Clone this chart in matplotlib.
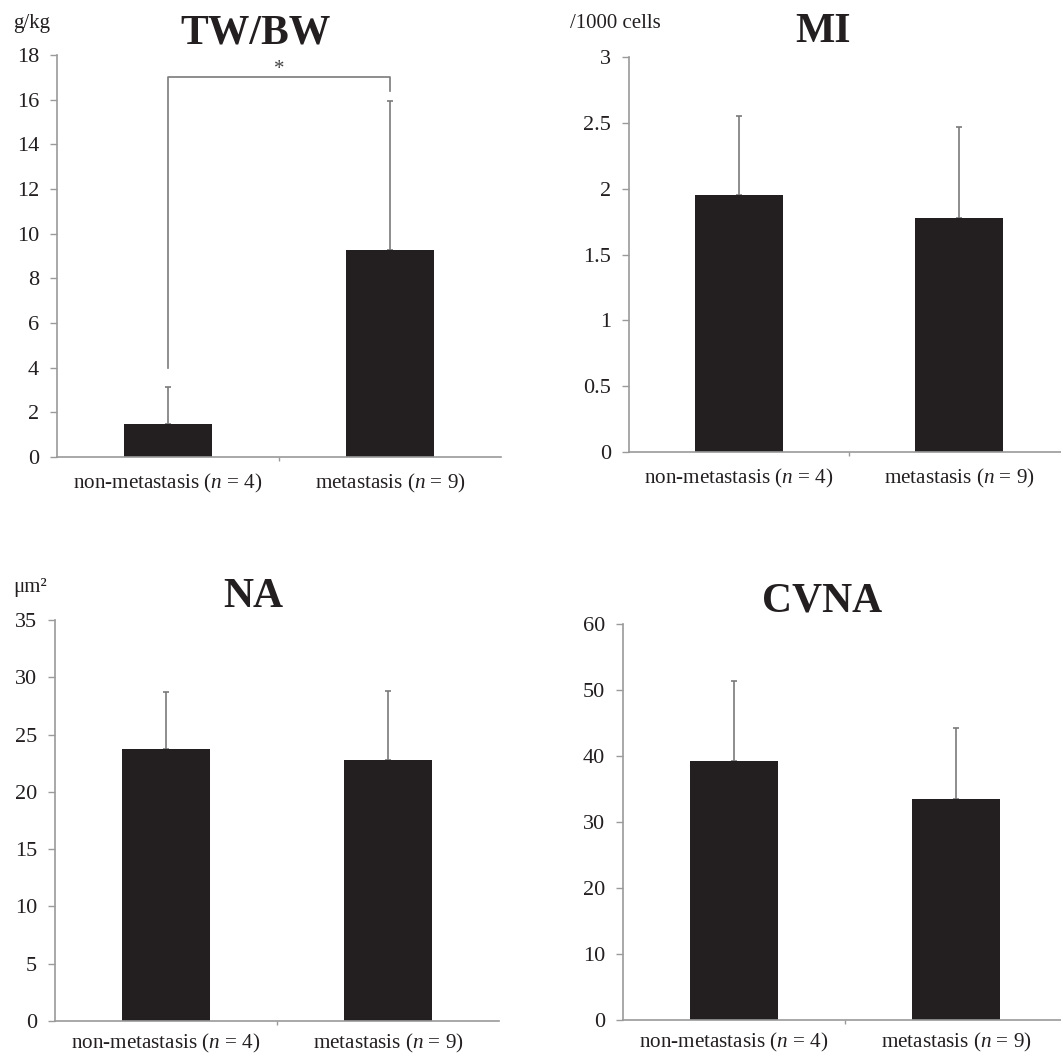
import matplotlib
matplotlib.use("Agg")
import matplotlib.pyplot as plt

plt.rcParams['font.family'] = ['Liberation Serif', 'DejaVu Serif']
plt.rcParams['mathtext.fontset'] = 'custom'
plt.rcParams['mathtext.rm'] = 'Liberation Serif'
plt.rcParams['mathtext.it'] = 'Liberation Serif:italic'
plt.rcParams['mathtext.bf'] = 'Liberation Serif:bold'

categories = ["non-metastasis ($\\it{n}$ = $\\it{4}$)", "metastasis ($\\it{n}$ = $\\it{9}$)"]

tw_means = [1.46, 9.25]
tw_sd = [1.69, 6.70]
mi_means = [1.95, 1.78]
mi_sd = [0.60, 0.69]
na_means = [23.7, 22.8]
na_sd = [5.0, 6.0]
cv_means = [39.3, 33.5]
cv_sd = [12.0, 10.8]

titles = ["TW/BW", "MI", "NA", "CVNA"]
units = ["g/kg", "/1000 cells", "\u03bcm\u00b2", ""]
ylims = [18, 3, 35, 60]
yticks = [list(range(0, 19, 2)), [0, 0.5, 1, 1.5, 2, 2.5, 3],
          list(range(0, 36, 5)), list(range(0, 61, 10))]
ytick_labels = [[str(v) for v in yticks[0]],
                ["0", "0.5", "1", "1.5", "2", "2.5", "3"],
                [str(v) for v in yticks[2]],
                [str(v) for v in yticks[3]]]

# significance bracket (TW/BW)
bracket_y = [4.0, 17.0, 17.0, 16.4]
star_y = 17.35

W, H = 1061, 1057
fig = plt.figure(figsize=(W / 100, H / 100), dpi=100)

# pixel boxes: left, right, top(y of ymax), bottom(y of 0)
boxes = [(57, 501, 55, 457), (629, 1069, 57, 452), (55, 499, 620, 1021), (623, 1067, 624, 1020)]
title_pos = [(256, 43), (823, 42), (253, 607), (822, 612)]
unit_pos = [(13, 28), (570, 28), (13, 592), (0, 0)]
xpads = [11, 11, 8, 8]

data = [(tw_means, tw_sd), (mi_means, mi_sd), (na_means, na_sd), (cv_means, cv_sd)]

bar_color = "#231f20"
axis_color = "#9a9a9a"
err_color = "#7a7a7a"
text_color = "#231f20"

for i, (l, r, t, b) in enumerate(boxes):
    ax = fig.add_axes([l / W, (H - b) / H, (r - l) / W, (b - t) / H])
    means, sd = data[i]
    x = [0, 1]
    ax.bar(x, means, width=0.4, color=bar_color, zorder=2)
    ax.errorbar(x, means, yerr=[[0, 0], sd], fmt='none', ecolor=err_color,
                elinewidth=1.2, capsize=2, capthick=1.2, zorder=1)
    ax.set_xlim(-0.5, 1.5)
    ax.set_ylim(0, ylims[i])
    ax.set_yticks(yticks[i])
    ax.set_yticklabels(ytick_labels[i])
    ax.set_xticks(x)
    ax.set_xticklabels(categories)
    ax.set_xticks([0.5], minor=True)
    for s in ["top", "right"]:
        ax.spines[s].set_visible(False)
    for s in ["left", "bottom"]:
        ax.spines[s].set_color(axis_color)
        ax.spines[s].set_linewidth(1.2)
    ax.tick_params(axis='y', direction='out', length=5, width=1.0, color=axis_color,
                   labelsize=16, pad=8, labelcolor=text_color)
    ax.tick_params(axis='x', which='major', length=0, labelsize=15.2, pad=xpads[i],
                   labelcolor=text_color)
    ax.tick_params(axis='x', which='minor', length=3, width=1.0, color=axis_color)
    ax.set_facecolor('none')
    if i == 0:
        ax.plot([0, 0, 1, 1], bracket_y, color=err_color, lw=1.2, zorder=1)
        ax.text(0.5, star_y, "*", ha='center', va='center', fontsize=15, color="#444444")
    tx, ty = title_pos[i]
    fig.text(tx / W, (H - ty) / H, titles[i], ha='center', va='baseline',
             fontsize=30, fontweight='bold', color=text_color)
    if units[i]:
        ux, uy = unit_pos[i]
        fig.text(ux / W, (H - uy) / H, units[i], ha='left', va='baseline',
                 fontsize=15, color=text_color)

fig.savefig("out.png", dpi=100, facecolor='white')
